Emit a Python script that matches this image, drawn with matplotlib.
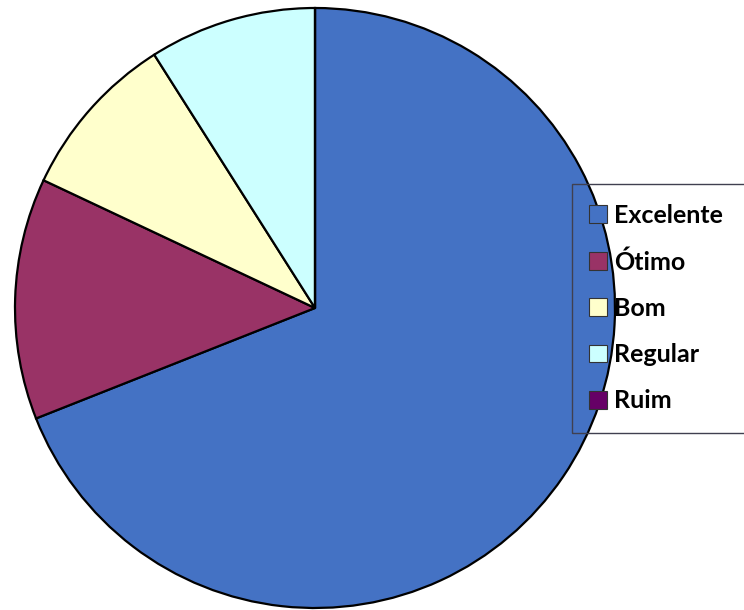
import matplotlib.pyplot as plt
from matplotlib.patches import Rectangle, Patch

labels = ["Excelente", "Ótimo", "Bom", "Regular", "Ruim"]
values = [69, 13, 9, 9, 0]
colors = ["#4472C4", "#993366", "#FFFFCC", "#CCFFFF", "#660066"]

W, H = 744, 610
fig = plt.figure(figsize=(W / 100, H / 100), dpi=100)

# pie: center (315, 308) px, radius 300 px
cx, cy, r = 315, 308, 300
ax = fig.add_axes([(cx - r) / W, (H - cy - r) / H, 2 * r / W, 2 * r / H])
ax.pie(values, colors=colors, startangle=90, counterclock=False, radius=1,
       wedgeprops=dict(edgecolor="black", linewidth=1.6), frame=False)
ax.set_xlim(-1, 1)
ax.set_ylim(-1, 1)
ax.set_aspect("auto")
ax.axis("off")

# legend frame that runs off the right edge
fig.patches.append(Rectangle((572 / W, (H - 433) / H), 200 / W, 249 / H,
                             transform=fig.transFigure, fill=False,
                             edgecolor="#404050", linewidth=1.0))

handles = [Patch(facecolor=c, edgecolor="#333333", linewidth=0.8) for c in colors]
fig.legend(handles, labels, loc="upper left", bbox_to_anchor=(589 / W, (H - 204) / H),
           frameon=False, prop=dict(family="Lato", weight="bold", size=18),
           handlelength=0.72, handleheight=0.72, handletextpad=0.3,
           labelspacing=0.93, borderpad=0, borderaxespad=0)

fig.savefig("out.png", dpi=100)
